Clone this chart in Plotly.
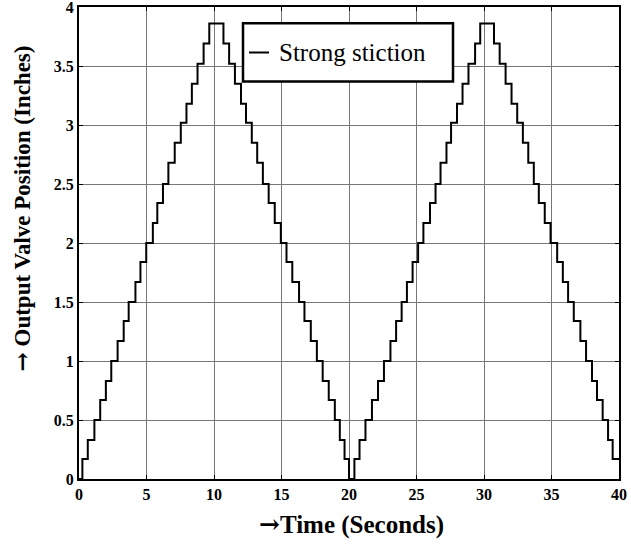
import plotly.graph_objects as go

# Step instants (s) and output levels (inches)
step_time = [0, 0.25, 0.65, 1.14, 1.57, 1.99, 2.39, 2.86, 3.31, 3.68, 4.18, 4.55, 4.98,
             5.47, 5.80, 6.22, 6.62, 7.09, 7.54, 7.96, 8.36, 8.78, 9.23, 9.65,
             10.70, 11.12, 11.55, 12.00, 12.37, 12.80, 13.20, 13.62, 14.05, 14.50, 14.95,
             15.37, 15.80, 16.30, 16.70, 17.17, 17.62, 18.05, 18.50, 18.95, 19.32, 19.67, 20.00,
             20.40, 20.78, 21.22, 21.70, 22.15, 22.59, 23.07, 23.49, 23.90, 24.29, 24.71, 25.12,
             25.51, 26.00, 26.41, 26.78, 27.22, 27.56, 28.00, 28.41, 28.85, 29.34, 29.72,
             30.74, 31.16, 31.60, 32.04, 32.46, 32.88, 33.28, 33.69, 34.06, 34.50, 34.93,
             35.42, 35.84, 36.23, 36.65, 37.14, 37.56, 38.00, 38.37, 38.79, 39.19, 39.53, 40.00]
valve_position = [0, 0.17, 0.33, 0.50, 0.67, 0.83, 1.00, 1.17, 1.34, 1.50, 1.67, 1.84, 2.00,
                  2.17, 2.34, 2.50, 2.68, 2.85, 3.02, 3.18, 3.35, 3.52, 3.69, 3.86,
                  3.69, 3.52, 3.35, 3.18, 3.02, 2.85, 2.68, 2.50, 2.34, 2.17, 2.00,
                  1.84, 1.67, 1.50, 1.34, 1.17, 1.00, 0.83, 0.67, 0.50, 0.33, 0.17, 0.00,
                  0.17, 0.33, 0.50, 0.67, 0.83, 1.00, 1.17, 1.34, 1.50, 1.67, 1.84, 2.00,
                  2.17, 2.34, 2.50, 2.68, 2.85, 3.02, 3.18, 3.35, 3.52, 3.69, 3.86,
                  3.69, 3.52, 3.35, 3.18, 3.02, 2.85, 2.68, 2.50, 2.34, 2.17, 2.00,
                  1.84, 1.67, 1.50, 1.34, 1.17, 1.00, 0.83, 0.67, 0.50, 0.33, 0.17, 0.17]

x_ticks = [0, 5, 10, 15, 20, 25, 30, 35, 40]
y_ticks = [0, 0.5, 1, 1.5, 2, 2.5, 3, 3.5, 4]
series_name = "Strong stiction"

ARROW = '<span style="font-family:DejaVu Serif">→</span>'

fig = go.Figure()
fig.add_trace(go.Scatter(x=step_time, y=valve_position, mode="lines", line_shape="hv",
                         line=dict(color="black", width=2), name=series_name,
                         showlegend=False))

axis_common = dict(showline=True, linecolor="black", linewidth=2, mirror="ticks",
                   ticks="inside", ticklen=4, tickcolor="black", tickwidth=1,
                   showgrid=True, gridcolor="#777777", gridwidth=1, zeroline=False,
                   ticklabeloverflow="allow",
                   tickfont=dict(family="Liberation Serif", size=16, color="black", weight="bold"))

fig.update_xaxes(range=[0, 40], tickvals=x_ticks, **axis_common)
fig.update_yaxes(range=[0, 4], tickvals=y_ticks, **axis_common)

fig.update_layout(
    width=631, height=545,
    margin=dict(l=79, r=12, t=7, b=66, autoexpand=False),
    paper_bgcolor="white", plot_bgcolor="white",
    showlegend=False,
    shapes=[
        dict(type="rect", xref="paper", yref="paper", x0=0.3037, x1=0.6926, y0=0.8422, y1=0.9657,
             line=dict(color="black", width=2.5), fillcolor="white", layer="above"),
        dict(type="line", xref="paper", yref="paper", x0=0.3148, x1=0.3519, y0=0.9036, y1=0.9036,
             line=dict(color="black", width=2), layer="above"),
    ],
    annotations=[
        dict(text=series_name, xref="paper", yref="paper", x=0.3667, y=0.9036,
             xanchor="left", yanchor="middle", showarrow=False,
             font=dict(family="Liberation Serif", size=25, color="black")),
        dict(text=ARROW + "Time (Seconds)", xref="paper", yref="paper", x=0.504, y=-0.0964,
             xanchor="center", yanchor="middle", showarrow=False,
             font=dict(family="Liberation Serif", size=25, color="black", weight="bold")),
        dict(text=ARROW + " Output Valve Position (Inches)", xref="paper", yref="paper",
             x=-0.1056, y=0.573, xanchor="center", yanchor="middle", textangle=-90,
             showarrow=False,
             font=dict(family="Liberation Serif", size=23, color="black", weight="bold")),
    ],
)

fig.write_html("out.html", config={"displayModeBar": False},
               post_script="document.body.style.margin='0px';")
